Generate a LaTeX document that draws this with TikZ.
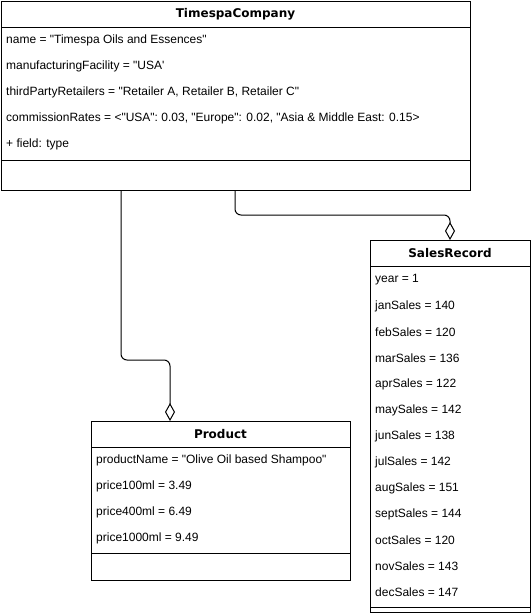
\documentclass[tikz,border=0pt]{standalone}
\usepackage{fontspec}
\setmainfont{Liberation Sans}
\newfontfamily\headfont{DejaVu Sans}
\usetikzlibrary{arrows.meta}
\usetikzlibrary{positioning}
\newcommand{\dq}{\textquotedbl}
\tikzset{
  classhead/.style={draw, line width=1pt, anchor=north west, inner sep=0pt, outer sep=0pt,
    minimum height=26pt, font=\headfont\bfseries\fontsize{12}{14}\selectfont},
  classpart/.style={draw, line width=1pt, anchor=north west, inner sep=0pt, outer sep=0pt},
  field/.style={anchor=west, inner sep=0pt, font=\fontsize{12}{14}\selectfont},
  aggregation/.style={line width=1pt, rounded corners=6pt, -{Diamond[open,length=18pt,width=10pt]}}
}
\begin{document}
\begin{tikzpicture}[x=1pt, y=-1pt]
  \useasboundingbox (0,0) rectangle (531,613);

  % TimespaCompany
  \node[classhead, minimum width=469pt] (company) at (1,1) {TimespaCompany};
  \node[classpart, minimum width=469pt, minimum height=133pt] (companyattrs) at (company.south west) {};
  \node[classpart, minimum width=469pt, minimum height=30pt] (companyops) at (companyattrs.south west) {};
  \foreach \t [count=\i from 0] in {
  {name = \dq Timespa Oils and Essences\dq},
  {manufacturingFacility = \dq USA\textquotesingle},
  {thirdPartyRetailers = \dq Retailer A, Retailer B, Retailer C\dq},
  {commissionRates = <\dq USA\dq: 0.03, \dq Europe\dq: 0.02, \dq Asia \& Middle East: 0.15>},
  {+ field: type}
  } {
    \node[field] (companyf\i) at (6,{40+26*\i}) {\t};
  }

  % Product
  \node[classhead, minimum width=259pt] (product) at (91,421) {Product};
  \node[classpart, minimum width=259pt, minimum height=106pt] (productattrs) at (product.south west) {};
  \node[classpart, minimum width=259pt, minimum height=27pt] (productops) at (productattrs.south west) {};
  \foreach \t [count=\i from 0] in {
  {productName = \dq Olive Oil based Shampoo\dq},
  price100ml = 3.49,
  price400ml = 6.49,
  price1000ml = 9.49
  } {
    \node[field] (productf\i) at (96,{460+26*\i}) {\t};
  }

  % SalesRecord
  \node[classhead, minimum width=160pt] (sales) at (370,240) {SalesRecord};
  \node[classpart, minimum width=160pt, minimum height=341pt] (salesattrs) at (sales.south west) {};
  \node[classpart, minimum width=160pt, minimum height=5pt] (salesops) at (salesattrs.south west) {};
  \foreach \t [count=\i from 0] in {
  year = 1, janSales = 140, febSales = 120, marSales = 136, aprSales = 122,
  maySales = 142, junSales = 138, julSales = 142, augSales = 151,
  septSales = 144, octSales = 120, novSales = 143, decSales = 147
  } {
    \node[field] (salesf\i) at (375,{280+26*\i}) {\t};
  }

  % Aggregations
  \coordinate (prodlink) at (companyops.south west -| 121,0);
  \coordinate (saleslink) at (companyops.south west -| 235,0);
  \draw[aggregation] (prodlink) -- (121,360) -- (170,360) -- (product.north west -| 170,0);
  \draw[aggregation] (saleslink) -- (235,215) -- (sales.north |- 0,215) -- (sales.north);

\end{tikzpicture}
\end{document}
